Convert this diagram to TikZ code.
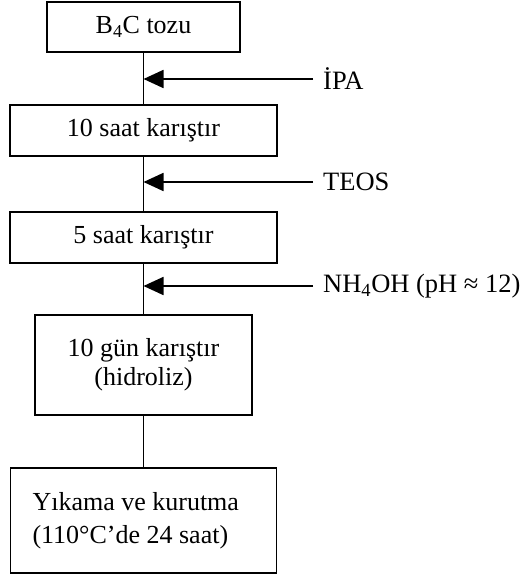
\documentclass[tikz,border=0pt]{standalone}
\usepackage{fontspec}
\setmainfont{Liberation Serif}
\usetikzlibrary{arrows.meta}

\tikzset{
  stepbox/.style={draw, line width=1.8pt, inner sep=0pt, align=center, font=\fontsize{26}{29}\selectfont},
  addlabel/.style={anchor=west, inner xsep=10pt, inner ysep=4pt, font=\fontsize{26.5}{29}\selectfont},
  feed/.style={line width=1.8pt, -{Triangle[length=20pt,width=18pt]}},
  flow/.style={line width=1.8pt}
}

\begin{document}
\begin{tikzpicture}[x=1pt, y=-1pt]
			%%%%% START %%%%%
			\useasboundingbox (0, 0) rectangle (532, 578);
			
			\node[stepbox, minimum width=193pt, minimum height=50pt] (tozu) at (143.5, 27) {B\textsubscript{4}C tozu};
			\node[stepbox, minimum width=267pt, minimum height=51pt] (saat10) at (143.5, 130.5) {10 saat karıştır};
			\node[stepbox, minimum width=267pt, minimum height=51pt] (saat5) at (143.5, 237.5) {5 saat karıştır};
			\node[stepbox, minimum width=217pt, minimum height=100pt] (gun10) at (143.5, 365) {10 gün karıştır\\(hidroliz)};
			\node[stepbox, text width=222pt, inner xsep=22pt, minimum height=105pt, align=flush left, font=\fontsize{26}{33}\selectfont] (kurutma) at (143.5, 520.5) {Yıkama ve kurutma\\(110°C’de 24 saat)};
			
			\draw[flow] (tozu.south) -- (saat10.north);
			\draw[flow] (saat10.south) -- (saat5.north);
			\draw[flow] (saat5.south) -- (gun10.north);
			\draw[flow] (gun10.south) -- (kurutma.north);
			
			\coordinate (j1) at (143.5, 79);
			\coordinate (j2) at (143.5, 182);
			\coordinate (j3) at (143.5, 286);
			
			\node[addlabel] (ipa) at (313, 79) {İPA};
			\node[addlabel] (teos) at (313, 182) {TEOS};
			\node[addlabel] (nh4oh) at (313, 286) {NH\textsubscript{4}OH (pH ≈ 12)};
			
			\draw[feed] (ipa.west) -- (j1);
			\draw[feed] (teos.west) -- (j2);
			\draw[feed] (nh4oh.west) -- (j3);
			%%%%% END %%%%%
\end{tikzpicture}
\end{document}
